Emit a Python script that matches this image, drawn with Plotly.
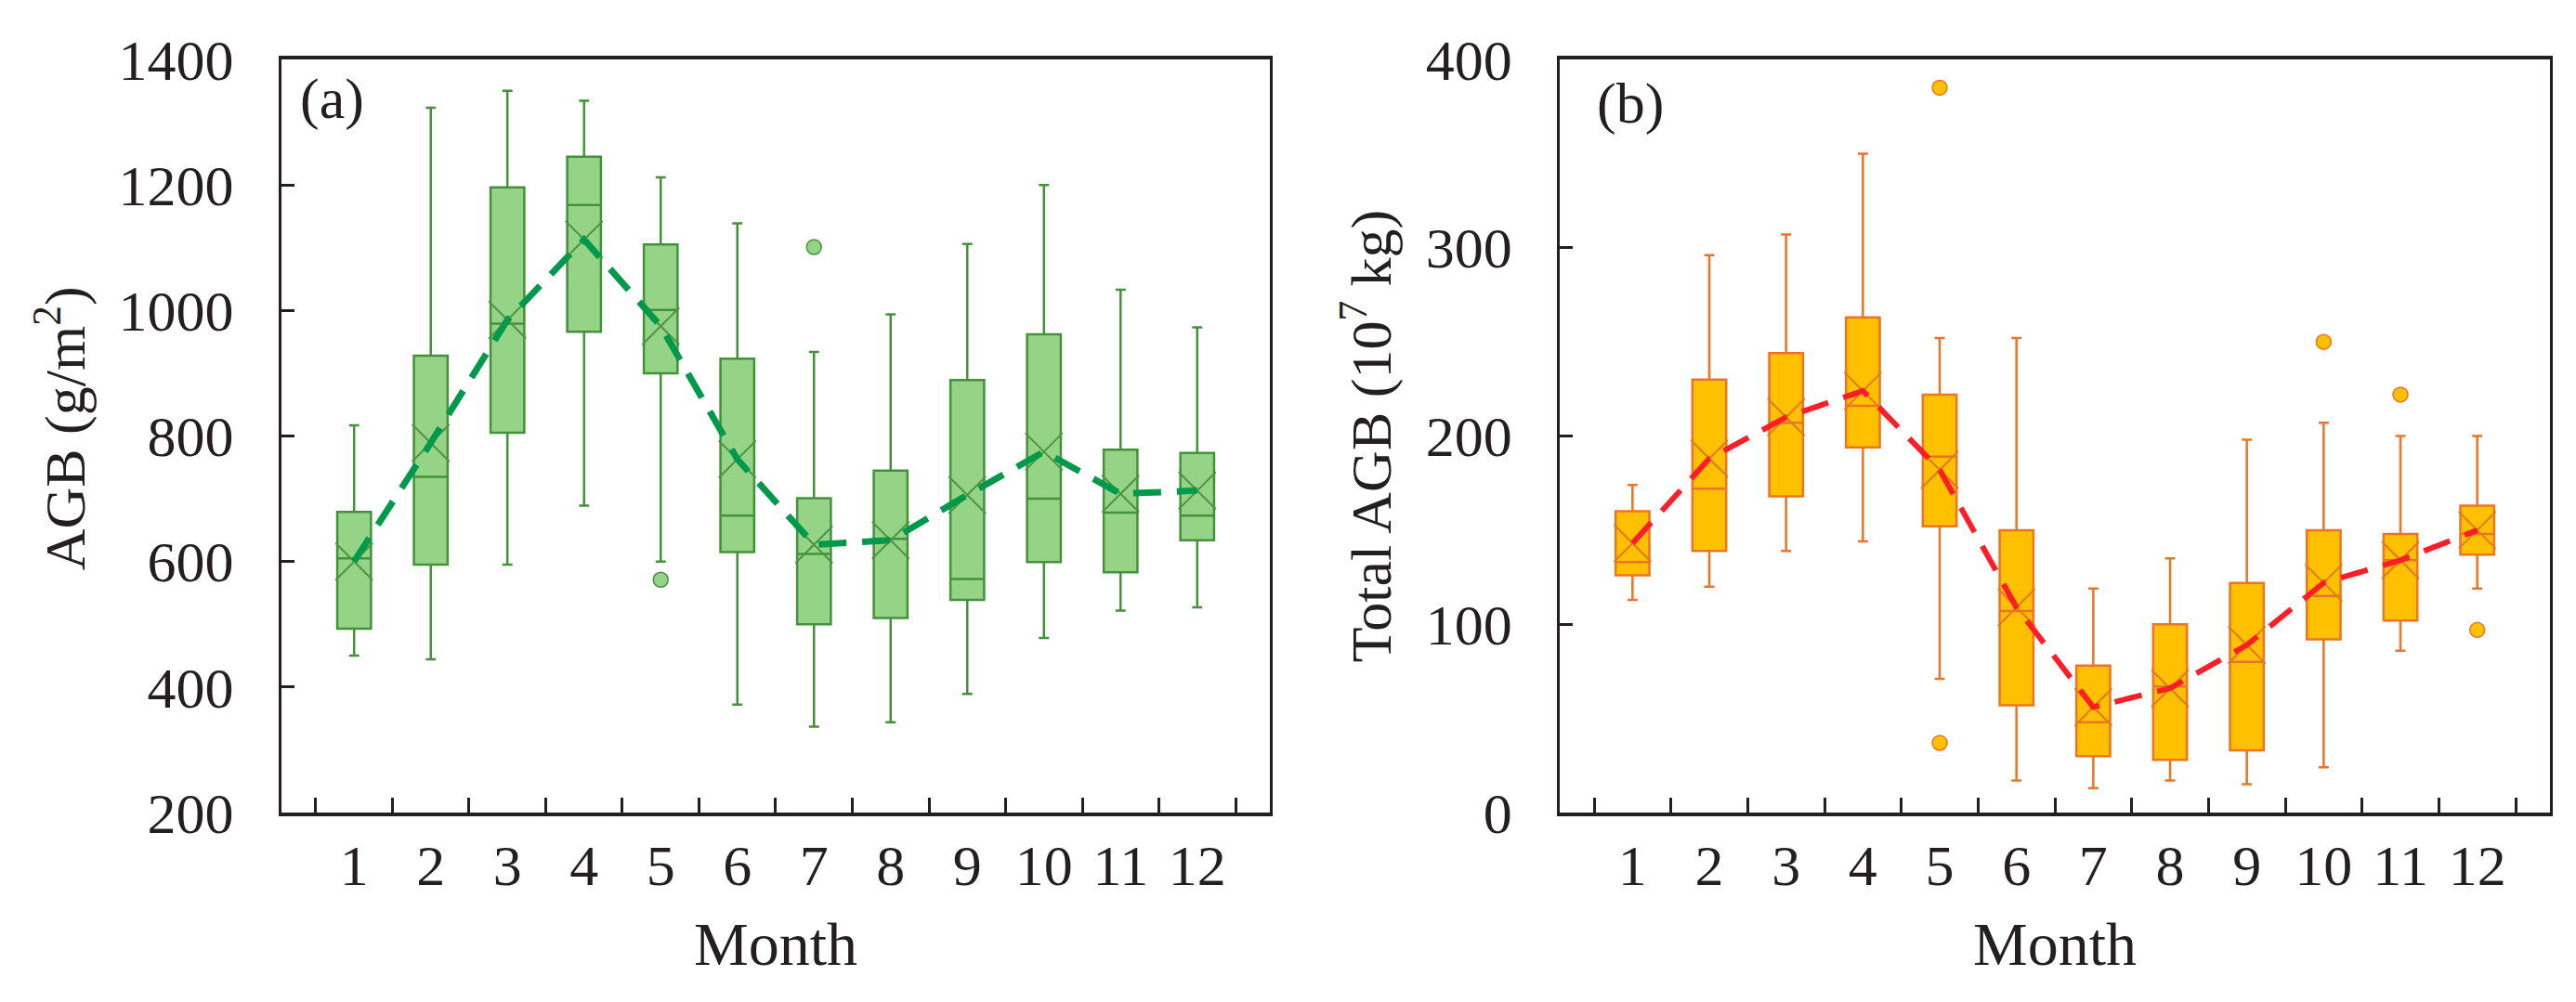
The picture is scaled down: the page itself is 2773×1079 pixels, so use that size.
import plotly.graph_objects as go
from plotly.subplots import make_subplots

months = [str(m) for m in range(1, 13)]

# (a) AGB, g/m2 : whisker ends, quartiles, median, mean
agb_low = [450, 444, 595, 689, 600, 372, 337, 344, 389, 478, 522, 527]
agb_q1 = [493, 595, 805, 966, 900, 615, 500, 510, 539, 599, 583, 634]
agb_med = [605, 735, 979, 1168, 1001, 673, 612, 636, 572, 700, 678, 673]
agb_q3 = [679, 928, 1196, 1245, 1105, 923, 701, 745, 889, 962, 778, 773]
agb_high = [817, 1323, 1350, 1334, 1212, 1139, 934, 994, 1106, 1200, 1033, 973]
agb_mean = [600, 789, 985, 1113, 975, 763, 627, 634, 706, 775, 708, 713]
agb_out_month = ['5', '7']
agb_out_val = [571, 1101]

# (b) total AGB, 10^7 kg
tot_low = [113, 120, 139, 144, 71, 17, 13, 17, 15, 24, 86, 119]
tot_q1 = [126, 139, 168, 194, 152, 57, 30, 28, 33, 92, 102, 137]
tot_med = [133, 172, 207, 216, 189, 107, 48, 67, 80, 115, 134, 148]
tot_q3 = [160, 230, 244, 263, 222, 150, 78, 100, 122, 150, 148, 163]
tot_high = [174, 296, 307, 350, 252, 252, 119, 135, 198, 207, 200, 200]
tot_mean = [143, 188, 210, 224, 182, 109, 56, 66, 89, 122, 134, 150]
tot_out_month = ['5', '5', '10', '11', '12']
tot_out_val = [385, 37, 250, 222, 97]

ink = '#231F20'
fontname = 'Liberation Serif, Times New Roman, serif'

fig = make_subplots(rows=1, cols=2)


def add_panel(col, low, q1, med, q3, high, mean, out_m, out_v,
              fill, edge, xcol, linecol, linew):
    fig.add_trace(go.Box(x=months, lowerfence=low, q1=q1, median=med, q3=q3,
                         upperfence=high, fillcolor=fill,
                         line=dict(color=edge, width=2.5), width=0.44,
                         whiskerwidth=0.3, boxpoints=False, hoverinfo='skip'),
                  1, col)
    fig.add_trace(go.Scatter(x=months, y=mean, mode='markers',
                             marker=dict(symbol='x-thin', size=40, color=xcol,
                                         line=dict(color=xcol, width=2))),
                  1, col)
    fig.add_trace(go.Scatter(x=out_m, y=out_v, mode='markers',
                             marker=dict(symbol='circle', size=16, color=fill,
                                         line=dict(color=edge, width=1.5))),
                  1, col)
    fig.add_trace(go.Scatter(x=months, y=mean, mode='lines',
                             line=dict(color=linecol, width=linew, dash='30px,17px')),
                  1, col)


add_panel(1, agb_low, agb_q1, agb_med, agb_q3, agb_high, agb_mean,
          agb_out_month, agb_out_val, '#95D487', '#43923A', '#4E9444', '#00994C', 7)
add_panel(2, tot_low, tot_q1, tot_med, tot_q3, tot_high, tot_mean,
          tot_out_month, tot_out_val, '#FFC000', '#EC7424', '#E07A20', '#FF1E27', 6)

fig.update_xaxes(type='category', tickson='boundaries', ticks='inside', ticklen=16,
                 tickwidth=3, tickcolor=ink, showline=True, linewidth=3.5, linecolor=ink,
                 mirror=True, showgrid=False, ticklabelstandoff=0,
                 tickfont=dict(size=62, color=ink, family=fontname))
fig.update_yaxes(ticks='inside', ticklen=14, tickwidth=3, tickcolor=ink, showline=True,
                 linewidth=3, linecolor=ink, mirror=True, showgrid=False, zeroline=False,
                 ticklabelstandoff=36, tickfont=dict(size=62, color=ink, family=fontname))
fig.update_xaxes(domain=[0, 0.4357], row=1, col=1)
fig.update_xaxes(domain=[0.5635, 1], row=1, col=2)
fig.update_yaxes(range=[200, 1400], dtick=200, row=1, col=1)
fig.update_yaxes(range=[0, 400], dtick=100, row=1, col=2)

notes = [
    dict(text='(a)', x=0.0225, y=0.947, xanchor='center', yanchor='middle'),
    dict(text='(b)', x=0.5946, y=0.941, xanchor='center', yanchor='middle'),
    dict(text='AGB (g/m<sup>2</sup>)', x=-0.0975, y=0.51, textangle=-90,
         xanchor='center', yanchor='middle'),
    dict(text='Total AGB (10<sup>7</sup> kg)', x=0.4786, y=0.5, textangle=-90,
         xanchor='center', yanchor='middle'),
    dict(text='Month', x=0.2179, y=-0.174, xanchor='center', yanchor='middle',
         font=dict(size=66, color=ink, family=fontname)),
    dict(text='Month', x=0.7817, y=-0.174, xanchor='center', yanchor='middle',
         font=dict(size=66, color=ink, family=fontname)),
]
for n in notes:
    n.setdefault('font', dict(size=62, color=ink, family=fontname))
    fig.add_annotation(xref='paper', yref='paper', showarrow=False, **n)

fig.update_layout(width=2773, height=1079, margin=dict(l=295, r=36, t=56, b=212),
                  plot_bgcolor='white', paper_bgcolor='white', showlegend=False,
                  font=dict(family=fontname, size=62, color=ink))
fig.write_html("out.html")
